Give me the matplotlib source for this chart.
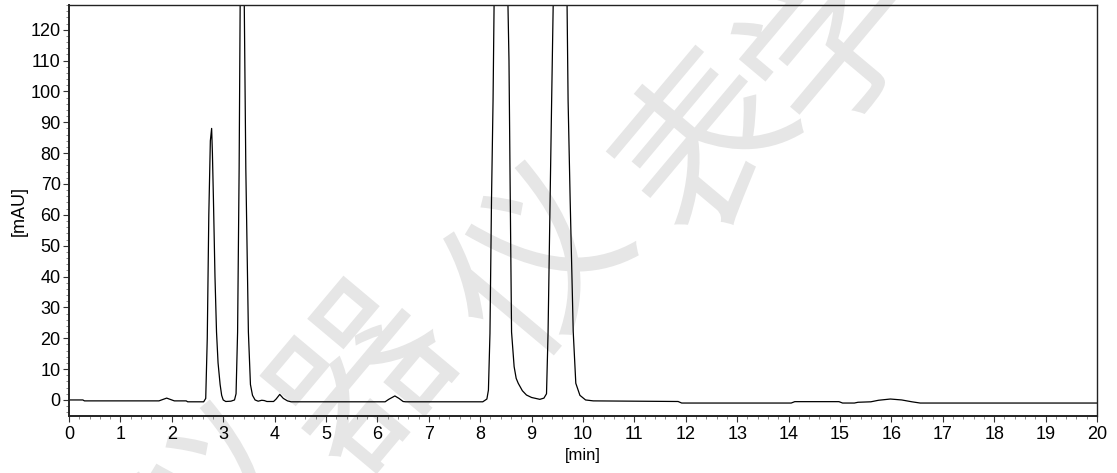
import numpy as np
import matplotlib
matplotlib.use("Agg")
import matplotlib.pyplot as plt
from matplotlib.ticker import MultipleLocator
from matplotlib.textpath import TextPath
from matplotlib.font_manager import FontProperties
from matplotlib.patches import PathPatch
from matplotlib.transforms import Affine2D, IdentityTransform

# chromatogram trace: retention time [min] and signal [mAU]
time_min = [
    0.00, 0.27, 0.30, 1.75, 1.85, 1.90, 1.95, 2.05, 2.28, 2.31, 2.62,
    2.66, 2.69, 2.72, 2.75, 2.775, 2.79, 2.81, 2.84, 2.87, 2.90, 2.94, 2.97,
    3.00, 3.05, 3.15, 3.22, 3.25, 3.28, 3.31, 3.33, 3.37, 3.41, 3.44, 3.49,
    3.53, 3.57, 3.62, 3.68, 3.75, 3.80, 3.85, 3.98, 4.03, 4.10, 4.17, 4.25,
    4.32, 6.15, 6.22, 6.34, 6.42, 6.50, 6.55, 8.05, 8.13, 8.16, 8.19, 8.22,
    8.25, 8.27, 8.40, 8.54, 8.56, 8.585, 8.61, 8.66, 8.70, 8.74, 8.82, 8.90,
    9.00, 9.16, 9.24, 9.29, 9.32, 9.36, 9.39, 9.42, 9.55, 9.69, 9.71, 9.75,
    9.81, 9.86, 9.94, 10.05, 10.20, 11.85, 11.92, 14.05, 14.12, 14.98,
    15.05, 15.28, 15.35, 15.60, 15.75, 15.98, 16.20, 16.40, 16.56, 20.00,
]
signal_mau = [
    0.0, 0.0, -0.3, -0.3, 0.3, 0.6, 0.3, -0.3, -0.3, -0.6, -0.6,
    0.5, 20.0, 60.0, 84.0, 88.0, 80.0, 65.0, 40.0, 22.0, 12.0, 5.0, 1.5,
    0.0, -0.5, -0.4, 0.0, 2.0, 22.0, 75.0, 128.0, 600.0, 128.0, 75.0, 22.0,
    5.0, 1.5, 0.0, -0.4, -0.1, -0.2, -0.5, -0.5, 0.3, 1.8, 0.5, -0.3,
    -0.6, -0.6, 0.2, 1.3, 0.5, -0.5, -0.6, -0.6, 0.3, 3.2, 21.6, 65.0,
    97.0, 128.0, 800.0, 128.0, 110.0, 65.0, 22.0, 10.8, 7.0, 5.4, 3.0, 1.6,
    0.8, 0.2, 0.6, 2.0, 21.6, 65.0, 97.0, 128.0, 800.0, 128.0, 97.0, 65.0,
    22.0, 5.4, 1.5, 0.0, -0.3, -0.5, -1.0, -1.0, -0.55, -0.55,
    -1.0, -1.0, -0.75, -0.6, -0.1, 0.3, 0.0, -0.6, -1.0, -1.0,
]
x_ticks = list(range(0, 21))
y_ticks = list(range(0, 121, 10))

# watermark characters
wm_chars = ["仪", "器", "仪", "表", "学"]
wm_centers = [(215, 500), (360, 375), (530, 260), (700, 140), (825, 35)]

plt.rcParams["font.family"] = ["Liberation Sans", "DejaVu Sans"]

fig = plt.figure(figsize=(11.17, 4.73), dpi=100)
ax = fig.add_axes([69 / 1117, 1 - 416 / 473, (1097 - 69) / 1117, (416 - 5) / 473])
ax.patch.set_alpha(0)

# light grey watermark behind the trace
H = 473
wm_font = FontProperties(family="Noto Sans CJK SC", weight="normal")
for ch, (cx, cy) in zip(wm_chars, wm_centers):
    tp = TextPath((0, 0), ch, size=175, prop=wm_font)
    ext = tp.get_extents()
    tr = (Affine2D()
          .translate(-(ext.x0 + ext.x1) / 2, -(ext.y0 + ext.y1) / 2)
          .rotate_deg(50)
          .translate(cx, H - cy))
    patch = PathPatch(tr.transform_path(tp), facecolor="#e6e6e6",
                      edgecolor="none", transform=IdentityTransform(), zorder=-5)
    fig.patches.append(patch)
    patch.set_figure(fig)

ax.plot(time_min, signal_mau, color="black", linewidth=0.9)

ax.set_xlim(0, 20)
ax.set_ylim(-5.2, 128)
ax.set_xticks(x_ticks)
ax.set_yticks(y_ticks)
ax.xaxis.set_minor_locator(MultipleLocator(0.2))
ax.yaxis.set_minor_locator(MultipleLocator(2))
ax.tick_params(axis="both", which="major", direction="out", length=4,
               width=0.8, labelsize=13, color="#333333")
ax.tick_params(axis="both", which="minor", direction="out", length=2,
               width=0.6, color="#777777")
ax.tick_params(axis="y", pad=2)
ax.tick_params(axis="x", pad=3)

for side in ["top", "right"]:
    ax.spines[side].set_linewidth(1.0)
    ax.spines[side].set_color("#222222")
for side in ["left", "bottom"]:
    ax.spines[side].set_linewidth(1.4)
    ax.spines[side].set_color("#222222")

ax.set_xlabel("[min]", fontsize=12, labelpad=4)
ax.set_ylabel("[mAU]", fontsize=13, labelpad=2)

fig.savefig("out.png", dpi=100)
